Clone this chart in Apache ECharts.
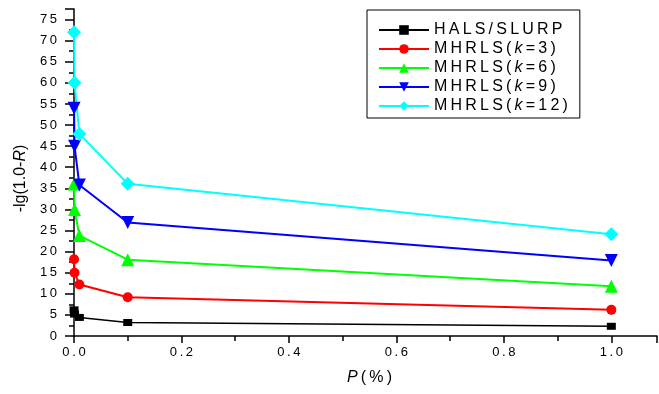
<!DOCTYPE html>
<html>
<head>
<meta charset="utf-8">
<script src="https://cdn.jsdelivr.net/npm/echarts@6/dist/echarts.min.js"></script>
<style>
  html, body { margin: 0; padding: 0; background: #fff; }
  #main { width: 659px; height: 394px; }
</style>
</head>
<body>
<div id="main"></div>
<script>
// P (%) values of the points
const pValues = [0.0001, 0.001, 0.01, 0.1, 1.0];
const halsSlurp = [6.2, 5.2, 4.4, 3.2, 2.3];
const mhrlsK3 = [18.2, 15.0, 12.2, 9.2, 6.2];
const mhrlsK6 = [36.0, 30.0, 23.8, 18.1, 11.8];
const mhrlsK9 = [54.0, 45.0, 35.8, 26.9, 17.9];
const mhrlsK12 = [72.0, 60.0, 47.9, 36.1, 24.1];
const seriesNames = ['HALS/SLURP', 'MHRLS(k=3)', 'MHRLS(k=6)', 'MHRLS(k=9)', 'MHRLS(k=12)'];

const FONT = 'Liberation Sans, Arial, sans-serif';
const sp = s => s.split('').join('\u2009');

function pts(ys) {
  return pValues.map((x, i) => [x, ys[i]]);
}

function legendText(name) {
  const m = name.match(/^MHRLS\(k=(\d+)\)$/);
  if (!m) return '{n|' + sp(name) + '}';
  return '{n|' + sp('MHRLS(') + '\u2009}{i|k}{n|\u2009' + sp('=' + m[1] + ')') + '}';
}

const chart = echarts.init(document.getElementById('main'));

function line(name, data, color, symbol, size, extra) {
  return Object.assign({
    name: name,
    type: 'line',
    data: pts(data),
    symbol: symbol,
    symbolSize: size,
    showAllSymbol: true,
    lineStyle: { color: color, width: 2 },
    itemStyle: { color: color },
    emphasis: { disabled: true },
    z: 3
  }, extra || {});
}

chart.setOption({
  animation: false,
  backgroundColor: '#fff',
  grid: { left: 74, right: 2, top: 9, bottom: 58 },
  legend: {
    left: 367,
    top: 10,
    orient: 'vertical',
    padding: [12, 12, 4, 11],
    borderColor: '#000',
    borderWidth: 1,
    itemWidth: 50,
    itemHeight: 12,
    itemGap: 3,
    data: seriesNames,
    formatter: legendText,
    textStyle: {
      fontFamily: FONT,
      fontSize: 16,
      color: '#000',
      rich: {
        n: { fontFamily: FONT, fontSize: 16, color: '#000', lineHeight: 19 },
        i: { fontFamily: FONT, fontSize: 16, color: '#000', fontStyle: 'italic', lineHeight: 19 }
      }
    }
  },
  xAxis: {
    type: 'value',
    min: 0,
    max: 1.085,
    interval: 0.2,
    name: '{i|P}{n|\u2009(\u2009%\u2009)}',
    nameLocation: 'middle',
    nameGap: 34,
    nameTextStyle: {
      padding: [0, 0, 0, 8],
      rich: {
        n: { fontFamily: FONT, fontSize: 16, color: '#000' },
        i: { fontFamily: FONT, fontSize: 16, color: '#000', fontStyle: 'italic' }
      }
    },
    axisLine: { show: true, lineStyle: { color: '#000', width: 1.5 } },
    axisTick: { length: 7, lineStyle: { color: '#000', width: 1.5 } },
    minorTick: { show: true, splitNumber: 2, length: 5, lineStyle: { color: '#000', width: 1.5 } },
    splitLine: { show: false },
    axisLabel: {
      margin: 10,
      fontFamily: FONT,
      fontSize: 13,
      color: '#000',
      showMaxLabel: false,
      formatter: v => (Math.abs(v * 5 - Math.round(v * 5)) < 1e-6 ? sp(v.toFixed(1)) : '')
    }
  },
  yAxis: {
    type: 'value',
    min: 0,
    max: 77.5,
    interval: 5,
    name: '{n|-lg(1.0-}{i|R}{n|)}',
    nameLocation: 'middle',
    nameGap: 45,
    nameRotate: 90,
    nameTextStyle: {
      padding: [0, 12, 0, 0],
      rich: {
        n: { fontFamily: FONT, fontSize: 16, color: '#000' },
        i: { fontFamily: FONT, fontSize: 16, color: '#000', fontStyle: 'italic' }
      }
    },
    axisLine: { show: true, lineStyle: { color: '#000', width: 1.5 } },
    axisTick: { length: 9, lineStyle: { color: '#000', width: 1.5 } },
    minorTick: { show: true, splitNumber: 2, length: 5, lineStyle: { color: '#000', width: 1.5 } },
    splitLine: { show: false },
    axisLabel: {
      margin: 17,
      fontFamily: FONT,
      fontSize: 13,
      color: '#000',
      formatter: v => (v % 5 === 0 ? sp(String(v)) : '')
    }
  },
  series: [
    line(seriesNames[0], halsSlurp, '#000000', 'rect', [9, 7], { lineStyle: { color: '#000', width: 1.5 } }),
    line(seriesNames[1], mhrlsK3, '#ff0000', 'circle', 10),
    line(seriesNames[2], mhrlsK6, '#00ff00', 'triangle', 13),
    line(seriesNames[3], mhrlsK9, '#0000ff', 'triangle', 13, { symbolRotate: 180 }),
    line(seriesNames[4], mhrlsK12, '#00ffff', 'diamond', 14)
  ]
});
</script>
</body>
</html>
